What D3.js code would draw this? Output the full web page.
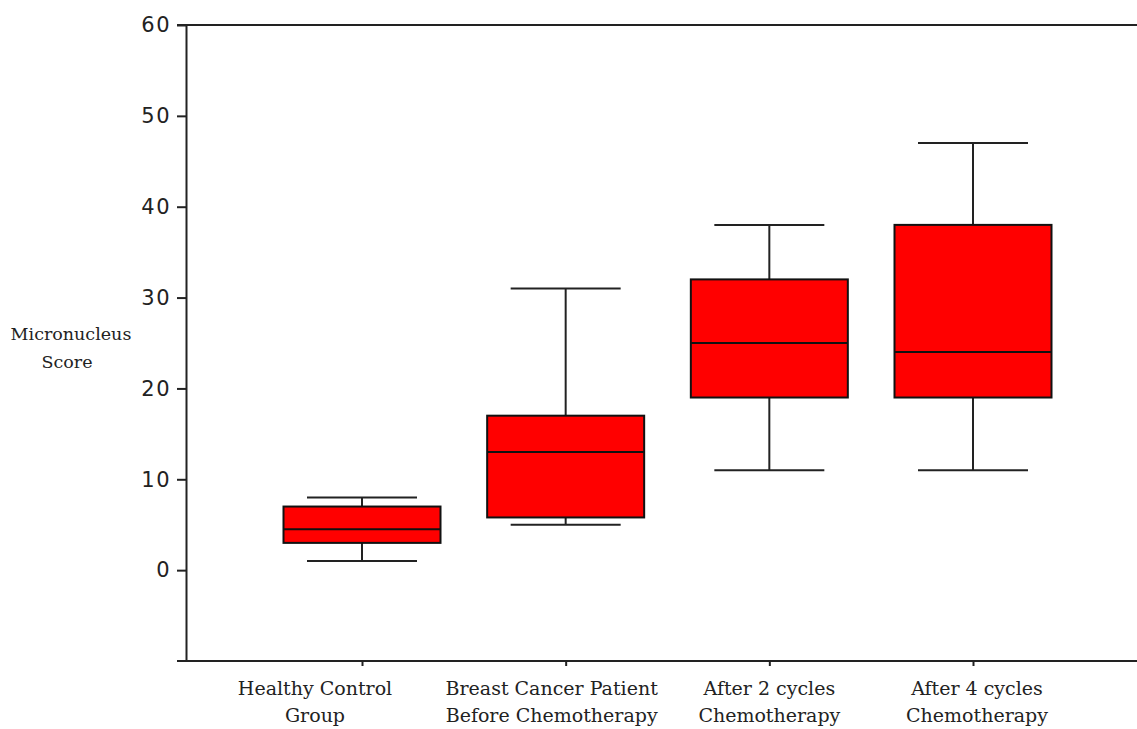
<!DOCTYPE html>
<html>
<head>
<meta charset="utf-8">
<script src="https://cdn.jsdelivr.net/npm/d3@7"></script>
<style>
  body { margin: 0; background: #fff; }
  svg { display: block; }
</style>
</head>
<body>
<div id="chart-area"></div>
<script>
// data
var groups = ["Healthy Control Group", "Breast Cancer Patient Before Chemotherapy",
              "After 2 cycles Chemotherapy", "After 4 cycles Chemotherapy"];
var groupLines = [["Healthy Control", "Group"],
                  ["Breast Cancer Patient", "Before Chemotherapy"],
                  ["After 2 cycles", "Chemotherapy"],
                  ["After 4 cycles", "Chemotherapy"]];
var whiskerLow  = [1, 5, 11, 11];
var q1          = [3, 5.8, 19, 19];
var median      = [4.5, 13, 25, 24];
var q3          = [7, 17, 32, 38];
var whiskerHigh = [8, 31, 38, 47];
var yTicks = [0, 10, 20, 30, 40, 50, 60];

var width = 1137, height = 729;
var plot = { left: 186, right: 1137, top: 25, bottom: 661 };

var svg = d3.select("#chart-area")
  .append("svg")
    .attr("width", width)
    .attr("height", height);

// scales
var y = d3.scaleLinear()
  .domain([-10, 60])
  .range([plot.bottom, plot.top]);
var x = d3.scalePoint()
  .domain(groups)
  .range([362, 973]);

var boxW = 157, capW = 110;
var ink = "#222";

// y axis
var yAxis = svg.append("g")
  .attr("transform", "translate(" + plot.left + ",0)")
  .call(d3.axisLeft(y).tickValues(yTicks).tickSize(9).tickSizeOuter(0).tickPadding(6));
yAxis.select(".domain").attr("stroke", ink).attr("stroke-width", 2);
yAxis.selectAll(".tick line").attr("stroke", ink).attr("stroke-width", 2);
yAxis.selectAll(".tick text")
  .attr("fill", ink)
  .attr("font-family", "'DejaVu Sans', sans-serif")
  .attr("font-size", "21px")
  .attr("letter-spacing", "1.5px");

// top and bottom frame lines
svg.append("line")
  .attr("x1", plot.left - 9).attr("x2", plot.right)
  .attr("y1", y(60)).attr("y2", y(60))
  .attr("stroke", ink).attr("stroke-width", 2);
svg.append("line")
  .attr("x1", plot.left - 9).attr("x2", plot.right)
  .attr("y1", y(-10)).attr("y2", y(-10))
  .attr("stroke", ink).attr("stroke-width", 2);

// x axis ticks
var xAxis = svg.append("g")
  .attr("transform", "translate(0," + plot.bottom + ")")
  .call(d3.axisBottom(x).tickSize(5).tickFormat(""));
xAxis.select(".domain").remove();
xAxis.selectAll(".tick line").attr("stroke", ink).attr("stroke-width", 2);

// category labels (as placed in the original, not quite on the ticks)
var labelShift = [-47, -14, 0, 4];
var catLabels = svg.append("g");
groups.forEach(function(g, i) {
  var t = catLabels.append("text")
    .attr("x", x(g) + labelShift[i])
    .attr("y", 695)
    .attr("text-anchor", "middle")
    .attr("font-family", "'DejaVu Serif', serif")
    .attr("font-size", "19px")
    .attr("fill", ink);
  groupLines[i].forEach(function(line, j) {
    t.append("tspan")
      .attr("x", x(g) + labelShift[i])
      .attr("dy", j === 0 ? 0 : 27)
      .text(line);
  });
});

// y label
var yLabel = svg.append("text")
  .attr("x", 71)
  .attr("y", 340)
  .attr("text-anchor", "middle")
  .attr("font-family", "'DejaVu Serif', serif")
  .attr("font-size", "17.5px")
  .attr("fill", ink);
yLabel.append("tspan").attr("x", 71).text("Micronucleus");
yLabel.append("tspan").attr("x", 67).attr("dy", 28).text("Score");

// boxes
var boxes = svg.selectAll(".box")
  .data(groups)
  .enter().append("g")
    .attr("class", "box");

boxes.append("line") // upper whisker
  .attr("x1", function(d) { return x(d); })
  .attr("x2", function(d) { return x(d); })
  .attr("y1", function(d, i) { return y(q3[i]); })
  .attr("y2", function(d, i) { return y(whiskerHigh[i]); })
  .attr("stroke", ink).attr("stroke-width", 2);
boxes.append("line") // lower whisker
  .attr("x1", function(d) { return x(d); })
  .attr("x2", function(d) { return x(d); })
  .attr("y1", function(d, i) { return y(q1[i]); })
  .attr("y2", function(d, i) { return y(whiskerLow[i]); })
  .attr("stroke", ink).attr("stroke-width", 2);
boxes.append("line") // top cap
  .attr("x1", function(d) { return x(d) - capW / 2; })
  .attr("x2", function(d) { return x(d) + capW / 2; })
  .attr("y1", function(d, i) { return y(whiskerHigh[i]); })
  .attr("y2", function(d, i) { return y(whiskerHigh[i]); })
  .attr("stroke", ink).attr("stroke-width", 2);
boxes.append("line") // bottom cap
  .attr("x1", function(d) { return x(d) - capW / 2; })
  .attr("x2", function(d) { return x(d) + capW / 2; })
  .attr("y1", function(d, i) { return y(whiskerLow[i]); })
  .attr("y2", function(d, i) { return y(whiskerLow[i]); })
  .attr("stroke", ink).attr("stroke-width", 2);
boxes.append("rect")
  .attr("x", function(d) { return x(d) - boxW / 2; })
  .attr("width", boxW)
  .attr("y", function(d, i) { return y(q3[i]); })
  .attr("height", function(d, i) { return y(q1[i]) - y(q3[i]); })
  .attr("fill", "#ff0000")
  .attr("stroke", "#111").attr("stroke-width", 2);
boxes.append("line") // median
  .attr("x1", function(d) { return x(d) - boxW / 2; })
  .attr("x2", function(d) { return x(d) + boxW / 2; })
  .attr("y1", function(d, i) { return y(median[i]); })
  .attr("y2", function(d, i) { return y(median[i]); })
  .attr("stroke", "#111").attr("stroke-width", 2);
</script>
</body>
</html>
